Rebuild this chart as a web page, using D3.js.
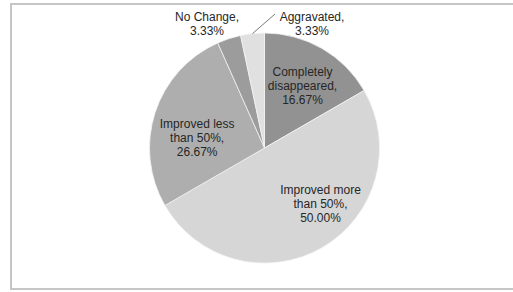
<!DOCTYPE html>
<html>
<head>
<meta charset="utf-8">
<script src="https://cdn.jsdelivr.net/npm/d3@7"></script>
<style>
  body { margin: 0; background: #fff; }
  text { font-family: "Liberation Sans", Arial, sans-serif; font-size: 12px; fill: #262626; }
</style>
</head>
<body>
<svg id="chart"></svg>
<script>
// slice data, clockwise from 12 o'clock
var categories = ["Completely disappeared", "Improved more than 50%", "Improved less than 50%", "No Change", "Aggravated"]
var values = [16.67, 50.00, 26.67, 3.33, 3.33]
var labelLines = [
  ["Completely", "disappeared,", "16.67%"],
  ["Improved more", "than 50%,", "50.00%"],
  ["Improved less", "than 50%,", "26.67%"],
  ["No Change,", "3.33%"],
  ["Aggravated,", "3.33%"]
]
var colors = ["#8e8e8e", "#d0d0d0", "#a9a9a9", "#989898", "#dadada"]

var width = 513, height = 292
var cx = 264.5, cy = 148, radius = 115

var svg = d3.select("#chart")
  .attr("width", width)
  .attr("height", height)

// outer frame
svg.append("rect")
  .attr("x", 11).attr("y", 4)
  .attr("width", 510).attr("height", 285)
  .attr("fill", "none")
  .attr("stroke", "#c6c6c6")
  .attr("stroke-width", 2)

var data = categories.map((c, i) => ({ name: c, value: values[i], lines: labelLines[i], color: colors[i] }))

var pie = d3.pie().sort(null).value(d => d.value)
var arcs = pie(data)
var arc = d3.arc().innerRadius(0).outerRadius(radius)

var defs = svg.append("defs")
arcs.forEach((a, i) => {
  var grad = defs.append("radialGradient")
    .attr("id", "g" + i)
    .attr("gradientUnits", "userSpaceOnUse")
    .attr("cx", cx).attr("cy", cy).attr("r", radius)
  var c = d3.color(a.data.color)
  grad.append("stop").attr("offset", "0%").attr("stop-color", c.darker(0.15))
  grad.append("stop").attr("offset", "100%").attr("stop-color", c.brighter(0.08))
})

var g = svg.append("g").attr("transform", `translate(${cx},${cy})`)

g.selectAll("path")
  .data(arcs)
  .join("path")
  .attr("d", arc)
  .attr("fill", (d, i) => `url(#g${i})`)
  .attr("stroke", "#f2f2f2")
  .attr("stroke-width", 0.8)

// inside labels
var inner = [0, 1, 2]
var innerArc = d3.arc().innerRadius(74).outerRadius(74)
var innerShift = [[1, 2], [19, -8], [3, 13]]
inner.forEach(i => {
  var p = innerArc.centroid(arcs[i])
  var n = arcs[i].data.lines.length
  var x = p[0] + innerShift[i][0]
  var t = g.append("text")
    .attr("text-anchor", "middle")
    .attr("x", x)
    .attr("y", p[1] + innerShift[i][1] - (n - 1) * 7 + 4)
  arcs[i].data.lines.forEach((l, k) => {
    t.append("tspan").attr("x", x).attr("dy", k === 0 ? 0 : 14).text(l)
  })
})

// outside labels for the two small slices
var outerArc = d3.arc().innerRadius(radius).outerRadius(radius)
var labelY = -cy + 21
var outerX = { 3: -57.5, 4: 47.5 }
;[3, 4].forEach(i => {
  var t = g.append("text")
    .attr("text-anchor", "middle")
    .attr("x", outerX[i])
    .attr("y", labelY)
  arcs[i].data.lines.forEach((l, k) => {
    t.append("tspan").attr("x", outerX[i]).attr("dy", k === 0 ? 0 : 14).text(l)
  })
})

// leader line for Aggravated
var edge = outerArc.centroid(arcs[4])
g.append("line")
  .attr("x1", edge[0]).attr("y1", edge[1])
  .attr("x2", outerX[4] - 37).attr("y2", labelY - 7)
  .attr("stroke", "#555")
  .attr("stroke-width", 0.8)
</script>
</body>
</html>
